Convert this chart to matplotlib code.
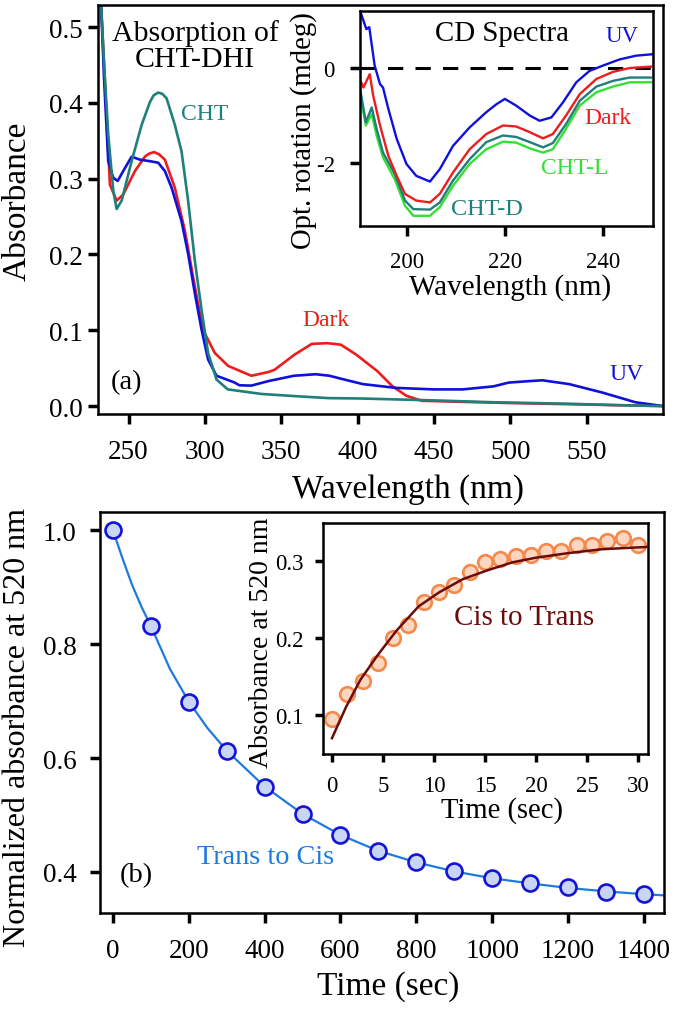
import numpy as np
import matplotlib
matplotlib.use("Agg")
import matplotlib.pyplot as plt

plt.rcParams['font.family'] = ['Liberation Serif', 'DejaVu Serif']
plt.rcParams['axes.unicode_minus'] = False

# ---- (a) absorption spectra of CHT-DHI ----
wl_dark = [230, 232, 234, 237.8, 242.2, 246.5, 254.2, 260.7, 263.5, 266.8, 270, 273.8, 280.3, 286.9,
           292.3, 296.7, 299.9, 306.5, 315.2, 330.4, 341.7, 345.7, 358.8, 370, 380, 389, 399, 413,
           422.6, 432, 442, 460, 500, 550, 600]
abs_dark = [0.64, 0.53, 0.45, 0.292, 0.271, 0.279, 0.310, 0.329, 0.333, 0.335, 0.332, 0.325, 0.288,
            0.231, 0.170, 0.122, 0.096, 0.070, 0.053, 0.040, 0.045, 0.048, 0.068, 0.082, 0.083, 0.081,
            0.068, 0.046, 0.0265, 0.0135, 0.007, 0.006, 0.004, 0.002, 0.0]

wl_uv = [230, 232, 234, 236.7, 240, 242.9, 246.5, 252, 257.5, 264, 269.4, 273.8, 278.2, 284.7, 289,
         293.4, 297.8, 302.1, 307.6, 319.5, 322.6, 330.4, 341.7, 358.3, 372.6, 381.6, 389.3, 403.4,
         425, 450, 468.8, 489, 499, 513, 521, 538.5, 560, 582, 600]
abs_uv = [0.64, 0.53, 0.43, 0.323, 0.301, 0.297, 0.310, 0.329, 0.325, 0.323, 0.321, 0.310, 0.288,
          0.244, 0.201, 0.149, 0.101, 0.0614, 0.040, 0.031, 0.0274, 0.027, 0.033, 0.040, 0.042, 0.040,
          0.036, 0.029, 0.024, 0.022, 0.022, 0.026, 0.031, 0.033, 0.034, 0.029, 0.018, 0.005, 0.0]

wl_cht = [230, 232, 234, 236.7, 240, 242.2, 245.5, 252, 258.6, 264, 266.5, 269.4, 272, 274.9, 280.3,
          284.7, 289, 293.4, 297.8, 302.1, 307.6, 315, 337, 360, 381, 402, 450, 490, 540, 568, 600]
abs_cht = [0.64, 0.53, 0.45, 0.358, 0.284, 0.260, 0.271, 0.323, 0.371, 0.401, 0.410, 0.4135, 0.412,
           0.406, 0.371, 0.336, 0.271, 0.192, 0.127, 0.070, 0.035, 0.022, 0.016, 0.013, 0.0105,
           0.010, 0.0075, 0.005, 0.003, 0.0013, 0.0]

# ---- (a) inset: CD spectra ----
wl_cd_uv = [190.3, 191.6, 192.2, 193.3, 194.4, 195.0, 196.1, 197.8, 199.8, 201.8, 204.6, 206.6, 209.3,
            212.7, 216.1, 218.2, 219.9, 222.2, 225.0, 227.0, 229.4, 231.8, 234.5, 237.2, 239.9,
            243.3, 246.7, 250]
cd_uv = [1.21, 0.82, 0.86, 0.05, -0.34, -0.41, -0.86, -1.49, -2.02, -2.27, -2.39, -2.13, -1.64,
         -1.25, -0.93, -0.76, -0.65, -0.79, -1.0, -1.11, -1.04, -0.72, -0.30, -0.06, 0.05,
         0.18, 0.26, 0.29]

wl_cd_dark = [190.1, 191.0, 192.3, 193.0, 194.4, 196.1, 197.8, 199.5, 201.8, 204.6, 206.6, 209.3,
              212.7, 216.1, 219.5, 222.2, 225.0, 227.7, 229.7, 232.4, 235.2, 238.6, 242.0, 245.4, 249.8]
cd_dark = [-0.2, -0.41, -0.13, -0.58, -1.21, -1.85, -2.27, -2.65, -2.79, -2.83, -2.65, -2.2,
           -1.71, -1.39, -1.21, -1.23, -1.35, -1.48, -1.39, -1.0, -0.55, -0.23, -0.08, 0.0, 0.03]

wl_cd_cht = [190.1, 191.5, 192.7, 193.7, 195.0, 197.4, 199.5, 201.2, 204.6, 206.6, 209.3, 212.7,
             216.1, 219.5, 222.2, 225.0, 227.7, 229.7, 232.4, 235.2, 238.6, 242.0, 245.4, 249.8]
cd_cht_d = [-0.3, -1.14, -0.83, -1.28, -1.78, -2.23, -2.79, -2.97, -2.98, -2.83, -2.37, -1.92,
            -1.56, -1.42, -1.45, -1.56, -1.67, -1.58, -1.18, -0.69, -0.39, -0.27, -0.2, -0.2]
cd_cht_l = [-0.41, -1.21, -0.97, -1.42, -1.88, -2.34, -2.9, -3.11, -3.11, -2.93, -2.48, -2.02,
            -1.71, -1.55, -1.57, -1.69, -1.78, -1.71, -1.28, -0.79, -0.51, -0.39, -0.3, -0.3]

# ---- (b) trans to cis decay ----
t_decay = [0, 100, 200, 300, 400, 500, 600, 700, 800, 900, 1000, 1100, 1200, 1300, 1400]
abs_decay = [1.0, 0.832, 0.699, 0.613, 0.550, 0.502, 0.465, 0.437, 0.417, 0.401, 0.389, 0.381,
             0.373, 0.365, 0.361]
t_decay_fit = [0, 25, 50, 75, 100, 150, 200, 250, 300, 400, 500, 600, 700, 800, 900, 1000, 1100,
               1200, 1300, 1400, 1453]
decay_fit = [1.0, 0.951, 0.905, 0.866, 0.832, 0.757, 0.699, 0.652, 0.613, 0.550, 0.502, 0.465,
             0.437, 0.417, 0.401, 0.389, 0.380, 0.372, 0.366, 0.361, 0.359]

# ---- (b) inset: cis to trans recovery ----
t_rise = [0, 1.5, 3, 4.5, 6, 7.5, 9, 10.5, 12, 13.5, 15, 16.5, 18, 19.5, 21, 22.5, 24, 25.5,
          27, 28.5, 30]
abs_rise = [0.095, 0.127, 0.144, 0.168, 0.200, 0.217, 0.247, 0.260, 0.268, 0.286, 0.298, 0.302,
            0.306, 0.308, 0.313, 0.313, 0.321, 0.320, 0.326, 0.329, 0.321]
t_rise_fit = [0, 1.4, 2.8, 4.5, 6.3, 8.5, 10.5, 12.8, 15.1, 17.7, 20, 23.2, 26.5, 31]
rise_fit = [0.070, 0.111, 0.146, 0.178, 0.209, 0.241, 0.259, 0.276, 0.287, 0.298, 0.304, 0.310,
            0.315, 0.318]

c_red = '#ee1c1c'
c_blue = '#1010dd'
c_teal = '#1f7f7a'
c_green = '#33e033'
c_line_b = '#1f7ae0'
c_brown = '#6b0c0c'

fig = plt.figure(figsize=(6.75, 10.2), dpi=100)


def style(ax, lw=1.8, tl=7, tw=2.5, fs=19.5, padx=10, pady=4):
    for s in ax.spines.values():
        s.set_linewidth(lw)
    ax.tick_params(direction='out', length=tl, width=tw, labelsize=fs)
    ax.tick_params(axis='x', pad=padx)
    ax.tick_params(axis='y', pad=pady)


# panel (a)
ax1 = fig.add_axes([0.1452, 0.5931, 0.837, 0.4010])
ax1.plot(wl_dark, abs_dark, color=c_red, lw=1.9)
ax1.plot(wl_uv, abs_uv, color=c_blue, lw=1.9)
ax1.plot(wl_cht, abs_cht, color=c_teal, lw=1.9)
ax1.set_xlim(230, 600)
ax1.set_ylim(-0.0105, 0.529)
ax1.set_xticks([250, 300, 350, 400, 450, 500, 550])
ax1.set_yticks([0.0, 0.1, 0.2, 0.3, 0.4, 0.5])
ax1.yaxis.set_major_formatter(matplotlib.ticker.FormatStrFormatter('%.1f'))
style(ax1, padx=11, pady=4)
ax1.set_xlabel('Wavelength (nm)', fontsize=24, va='center')
ax1.xaxis.set_label_coords(0.549, -0.182)
ax1.set_ylabel('Absorbance', fontsize=24, va='center')
ax1.yaxis.set_label_coords(-0.142, 0.522)
ax1.text(0.172, 0.90, 'Absorption of\nCHT-DHI', transform=ax1.transAxes, fontsize=21.5,
         ha='center', va='center', linespacing=1.0)
ax1.text(0.189, 0.735, 'CHT', transform=ax1.transAxes, fontsize=17, color=c_teal,
         ha='center', va='center')
ax1.text(0.404, 0.231, 'Dark', transform=ax1.transAxes, fontsize=17, color=c_red,
         ha='center', va='center')
ax1.text(0.935, 0.099, 'UV', transform=ax1.transAxes, fontsize=17, color=c_blue,
         ha='center', va='center')
ax1.text(0.0496, 0.080, '(a)', transform=ax1.transAxes, fontsize=20.5, ha='center', va='center')

# inset of (a): CD spectra
ax2 = fig.add_axes([0.5333, 0.7777, 0.4336, 0.2105])
ax2.set_facecolor('white')
ax2.axhline(0, color='black', lw=2.2, ls=(0, (5, 4)))
ax2.plot(wl_cd_cht, cd_cht_l, color=c_green, lw=1.7)
ax2.plot(wl_cd_cht, cd_cht_d, color=c_teal, lw=1.7)
ax2.plot(wl_cd_dark, cd_dark, color=c_red, lw=1.7)
ax2.plot(wl_cd_uv, cd_uv, color=c_blue, lw=1.7)
ax2.set_xlim(190.3, 250.1)
ax2.set_ylim(-3.32, 1.2)
ax2.set_xticks([200, 220, 240])
ax2.set_yticks([0, -2])
style(ax2, tl=7, tw=2.5, fs=16.5, padx=11, pady=11)
ax2.set_xlabel('Wavelength (nm)', fontsize=21, va='center')
ax2.xaxis.set_label_coords(0.512, -0.281)
ax2.set_ylabel('Opt. rotation (mdeg)', fontsize=20.7, va='center')
ax2.yaxis.set_label_coords(-0.193, 0.45)
ax2.text(0.485, 0.897, 'CD Spectra', transform=ax2.transAxes, fontsize=20.8,
         ha='center', va='center')
ax2.text(0.897, 0.886, 'UV', transform=ax2.transAxes, fontsize=16.5, color=c_blue,
         ha='center', va='center')
ax2.text(0.846, 0.502, 'Dark', transform=ax2.transAxes, fontsize=17, color=c_red,
         ha='center', va='center')
ax2.text(0.735, 0.269, 'CHT-L', transform=ax2.transAxes, fontsize=17, color=c_green,
         ha='center', va='center')
ax2.text(0.433, 0.082, 'CHT-D', transform=ax2.transAxes, fontsize=17.5, color=c_teal,
         ha='center', va='center')

# panel (b)
ax3 = fig.add_axes([0.1481, 0.1039, 0.8356, 0.3931])
ax3.plot(t_decay_fit, decay_fit, color=c_line_b, lw=1.6, zorder=2)
ax3.plot(t_decay, abs_decay, 'o', ms=11.5, mfc='#c9d5f5', mec='#1212d8', mew=1.9, zorder=3)
ax3.set_xlim(-34, 1453)
ax3.set_ylim(0.328, 1.0316)
ax3.set_xticks([0, 200, 400, 600, 800, 1000, 1200, 1400])
ax3.set_yticks([0.4, 0.6, 0.8, 1.0])
ax3.yaxis.set_major_formatter(matplotlib.ticker.FormatStrFormatter('%.1f'))
style(ax3, padx=11, pady=10)
ax3.set_xlabel('Time (sec)', fontsize=24, va='center')
ax3.xaxis.set_label_coords(0.511, -0.182)
ax3.set_ylabel('Normalized absorbance at 520 nm', fontsize=23, va='center')
ax3.yaxis.set_label_coords(-0.146, 0.464)
ax3.text(0.065, 0.097, '(b)', transform=ax3.transAxes, fontsize=20.5, ha='center', va='center')
ax3.text(0.294, 0.140, 'Trans to Cis', transform=ax3.transAxes, fontsize=20.3, color=c_line_b,
         ha='center', va='center')

# inset of (b): cis to trans
ax4 = fig.add_axes([0.4785, 0.2598, 0.4815, 0.2265])
ax4.set_facecolor('white')
ax4.plot(t_rise, abs_rise, 'o', ms=10.5, mfc='#fdd6c0', mec='#f5884a', mew=1.9, zorder=2)
ax4.plot(t_rise_fit, rise_fit, color=c_brown, lw=1.8, zorder=3)
ax4.set_xlim(-0.88, 30.98)
ax4.set_ylim(0.0495, 0.349)
ax4.set_xticks([0, 5, 10, 15, 20, 25, 30])
ax4.set_yticks([0.1, 0.2, 0.3])
style(ax4, tl=6, tw=2.5, fs=16.5, padx=9, pady=8)
ax4.set_xlabel('Time (sec)', fontsize=20.6, va='center')
ax4.xaxis.set_label_coords(0.551, -0.242)
ax4.set_ylabel('Absorbance at 520 nm', fontsize=20, va='center')
ax4.yaxis.set_label_coords(-0.188, 0.487)
ax4.text(0.618, 0.595, 'Cis to Trans', transform=ax4.transAxes, fontsize=20.9, color=c_brown,
         ha='center', va='center')

fig.savefig('out.png', dpi=100)
